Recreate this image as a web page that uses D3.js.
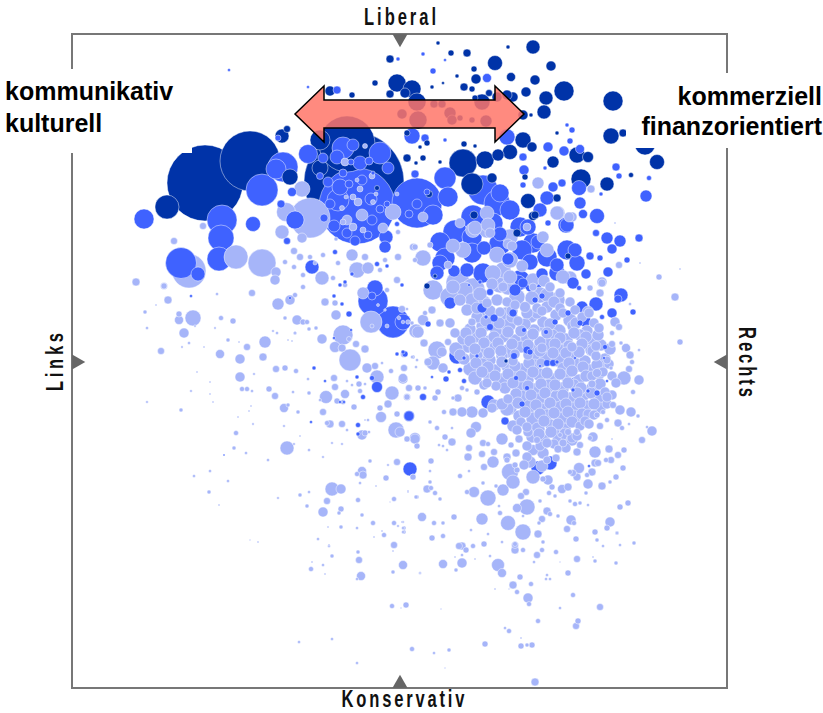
<!DOCTYPE html>
<html>
<head>
<meta charset="utf-8">
<script src="https://cdn.jsdelivr.net/npm/d3@7"></script>
<style>
  html, body { margin: 0; padding: 0; background: #fff; }
  svg { display: block; }
</style>
</head>
<body>
<script>
var w = 823;
var h = 713;

// map position (left-right, top-down) and radius
var darkBubbles = [
  [133,149,38],[178,127,30],[95,173,12],[282,148,50],[275,110,28],[248,106,10],[248,134,8],[218,143,8],[210,102,7],[215,95,3.5],
  [318,25,4],[325,49,9],[340,55,9],[318,60,4],[333,59,5],[303,49,3],[280,61,3],[258,57,5],[335,124,4],
  [461,13,7],[423,29,7.5],[479,32,5],[395,19,4],[379,19,3],[366,9,2],[436,13,2],[402,35,3],[404,45,5],[385,42,2],[371,49,1.5],
  [360,53,2],[392,53,4],[400,55,3],[439,43,4.5],[463,46,5],[492,57,10],[454,58,5],[474,64,7],[472,78,7],[541,67,10],
  [539,102,8],[551,99,4],[573,111,10],[585,128,7.5],[559,141,2.5],[535,150,7],[509,145,10],[451,81,5],[459,81,2],[485,99,2],
  [451,106,8],[460,113,5],[505,121,8],[516,123,5.5],[481,128,6],[453,143,3],[485,164,4],[456,167,7.5],[463,181,4],
  [391,129,14],[413,126,9],[426,121,6],[438,118,7.5],[400,150,11],[420,144,5],[344,129,2],[351,124,3],[355,109,3],[348,113,2],
  [392,110,3],[403,112,2],[368,128,2],[357,160,3.5],[345,68,9],[346,86,9],[378,79,6],[388,84,3],[380,86,5],[410,68,8],
  [414,87,6],[400,86,3],[425,63,5],[441,63,5],[435,61,5],[417,59,3.5],[403,64,3],[335,99,3],[305,154,2.5],[355,252,3],[434,327,2],[362,70,4],[330,80,5],[370,70,4],
  [445,199,4],[402,181,4],[496,222,3],[363,242,2],[461,182,4.5]
];

var midBubbles = [
  [190,156,16],[211,133,15],[204,135,10],[236,120,9.5],[150,186,15],[149,204,13],[147,225,12],[181,190,7.5],[72,185,10],[109,229,15.5],
  [126,240,7],[220,158,4.5],[209,170,4],[223,186,9],[215,207,3.5],[285,172,38],[308,119,11],[271,114,11],[288,129,7],[345,169,25],
  [314,203,7],[313,213,6],[343,140,4],[240,233,7],[303,254,8],[263,218,2.5],[268,251,2],[273,248,2],[330,251,2],[326,25,2],[265,56,4],[236,53,1.5],[157,36,1.5],[206,104,3],
  [351,20,2],[373,26,1.5],[361,37,3],[415,44,4.5],[544,133,4],[547,142,3],[577,144,2.5],[507,154,7.5],[574,162,6],[529,160,2],[508,169,6],
  [511,180,4.5],[525,182,7.5],[494,191,8],[476,189,3],[524,199,3.5],[535,204,6],[548,207,6],[540,215,5],[567,204,4],[555,226,3],
  [528,224,3],[536,238,5],[549,261,7],[500,96,3],[495,91,2],[498,107,3],[476,113,5],[492,117,5],[508,115,4.5],[451,123,4],
  [452,136,5],[451,151,3],[473,134,2],[475,164,7],[481,153,5],[490,149,4],[468,176,7],[435,103,8],[340,102,8],[353,104,4],[373,106,2],
  [373,144,11],[376,163,10],[411,156,15],[425,169,13],[428,159,9],[438,176,10],[361,181,10],[383,198,12],[401,183,12],[456,193,8],[448,193,10],
  [461,209,10],[495,216,10],[475,223,10],[505,229,8],[448,246,10],[461,250,9],[485,239,8],[501,249,6],[368,208,10],[373,224,10],[368,229,8],
  [400,203,10],[421,189,10],[428,210,11],[400,219,10],[450,216,10],[466,208,7],[458,228,8],[485,231,7],[503,216,7],[495,191,7],[411,239,10],[365,239,7],[446,249,8],
  [428,200,7],[436,225,6],[395,236,7],[382,237,6],[412,214,7],[470,240,6],[514,240,5],[518,222,4],
  [378,269,6],[356,290,3],[410,274,5],[422,284,4],[452,296,2.5],[483,288,3],[496,279,3],
  [474,298,2.5],[510,273,6],[524,270,7],[546,265,4],[540,279,5],[561,278,3],[530,283,2.5],[513,287,6],[508,289,3],[507,254,2.5],
  [470,262,3],[463,266,3],[443,256,6],[451,249,5],[418,258,3.5],[408,248,2],[397,251,1.5],[414,283,2],[418,293,3.5],[441,279,4],
  [405,322,2],[442,322,3.5],[455,316,4],[458,318,3],[468,332,1.5],[475,329,3.5],[481,329,3.5],[485,328,2],[444,344,2.5],[455,354,2.5],
  [505,349,7],[501,356,2],[516,357,2],[525,359,3],[535,347,1.5],[532,324,1.5],[533,313,2.5],[503,324,1.5],[392,324,2],[388,336,2.5],
  [392,347,2.5],[377,338,2],[374,345,3],[351,363,3.5],[360,343,1.5],[337,382,5.5],[433,387,4],[450,370,3],[416,368,7],[338,435,7],
  [466,434,7],[478,429,7],[517,432,1.5],[331,318,2],[331,288,8],[385,322,8],[300,262,4],[301,267,15],[321,288,16],[337,382,5],
  [119,262,1.5],[242,334,2],[253,347,1.5],[270,270,2],[277,280,3],[291,363,2.5],[305,353,5.5],[286,391,2.5],[286,400,2],[333,320,3],
  [262,304,1.5],[218,264,1.5],[223,299,1.5],[279,296,1.5],[300,344,2.5],[285,343,2],[268,368,1.5],[272,368,1.5],[239,388,1.5],[152,421,1],
  [305,230,2.5],[280,240,2],[315,232,2],[262,262,2],[325,320,2],[315,170,3],[325,190,2.5],
  // small circles lying on the two largest discs
  [265,123,7],[251,124,5],[281,111,6],[316,134,6],[268,153,8],[256,148,5],[248,142,3.5],[290,146,5],[301,139,2],[266,166,11],[299,165,6],[277,150,4],
  [258,170,5],[275,199,5],[262,192,6],[300,186,5],[308,175,4],[296,201,4],[283,207,5],[271,139,4],[297,127,4],[279,128,3],[252,184,4],[345,170,5],[337,180,4],[355,158,3]
];

var lightBubbles = [
  [117,237,17],[164,223,12],[190,229,14],[230,155,8],[238,184,20],[214,178,9.5],[210,198,7],[230,204,5],[321,178,8],[280,221,6],
  [285,236,8],[296,234,6],[250,244,7],[204,238,5],[203,246,5],[92,252,3.5],[64,248,4],[102,207,3.5],[131,192,3.5],[238,223,2.5],
  [228,223,3.5],[222,217,3.5],[213,228,2.5],[222,233,2.5],[231,241,2.5],[223,261,2.5],[231,253,2.5],[180,259,3.5],[261,244,2.5],[251,221,2.5],
  [243,229,2],[266,229,2.5],[293,223,3.5],[308,236,2.5],[325,246,3.5],[315,256,2.5],[326,223,3.5],[343,226,2.5],[342,213,3.5],[326,198,2.5],[313,226,2.5],
  [270,174,2.5],[275,186,5],[271,188,3],[281,193,4],[290,181,6],[286,168,4],[281,163,3],[291,196,3],[311,194,5],[301,168,2.5],[274,163,2],[288,155,3],[273,128,4],[293,112,2.5],[285,146,2],[300,142,3],[325,160,2],[264,205,2],[304,160,2],
  [415,179,7],[403,194,7],[418,199,5],[416,191,7],[388,189,5],[381,212,7],[436,210,5],[425,221,8],[431,236,8],[475,216,7],[486,179,7],[500,183,5],[351,224,8],[343,213,3],[358,211,3],[376,231,4],
  [401,196,7.5],[415,196,8],[391,216,8],[438,203,8],[455,193,4],[471,203,6],[498,244,7],[386,249,12],[401,256,12],
  [421,239,8],[438,226,8],[436,253,8],[351,183,5],[361,256,10],[341,213,3.5],[378,263,10],[411,269,8],[445,263,8],[468,261,8],[428,249,10],[461,246,7],[491,243,7],[485,266,8],[475,261,7],[460,264,7],
  [393,256,8],[381,253,7],[388,266,6],[400,266,7],[395,276,6],[405,283,6],[400,288,4],[415,269,5],[425,266,6],[435,268,5],[443,271,5],[428,278,5],
  [453,273,5.5],[465,274,5],[475,273,6],[488,274,5],[498,268,5],[488,259,5],[478,253,5],[461,253,4],[431,253,5],[528,259,4],[530,249,4],[518,254,3],
  [407,281,7],[420,286,6],[434,280,7],[446,287,5],[459,282,7],[471,288,6],[484,281,6],[498,286,7],[510,283,5],[522,289,5],
  [398,295,6],[411,292,7],[424,297,6],[437,291,7],[462,296,6],[474,293,7],[487,297,7],[501,292,6],[515,297,6],[527,294,5],
  [391,305,6],[404,302,7],[417,307,6],[430,301,8],[443,306,6],[455,304,7],[468,308,6],[480,302,7],[494,306,7],[508,301,6],[520,306,6],
  [384,315,7],[396,311,8],[410,316,7],[423,313,6],[436,317,7],[449,313,6],[463,316,7],[476,311,7],[489,317,7],[500,313,5],[519,316,6],[529,311,6],
  [392,325,6],[404,322,7],[417,326,7],[430,322,6],[441,327,5],[461,325,7],[473,321,8],[486,326,7],[499,322,6],[513,327,6],[524,322,5],[533,325,6],
  [398,335,7],[410,331,7],[423,336,6],[436,332,7],[450,336,7],[463,331,6],[492,335,7],[505,331,7],[518,336,6],[530,332,6],
  [403,344,7],[416,341,6],[429,346,7],[441,342,7],[455,346,7],[468,341,7],[481,346,7],[494,342,6],[507,346,6],[520,342,5],
  [433,354,6],[449,351,7],[462,356,7],[476,352,7],[490,355,7],[502,351,6],[521,354,7],[412,351,5],
  [436,365,5],[452,363,7],[466,366,7],[484,362,6],[498,365,7],[512,361,6],[526,364,7],[540,361,5],
  [422,371,6],[438,374,7],[458,372,7],[470,376,7],[487,372,7],[501,375,7],[515,372,6],[528,374,6],
  [447,382,6],[461,385,7],[475,381,6],[489,385,7],[503,383,7],[516,380,5],
  [441,392,6],[466,395,7],[479,391,6],[493,395,6],[508,392,5],
  [460,403,6],[472,406,6],[487,402,7],[500,404,5],
  // circles packed between the ones above in the dense part
  [414,287,6],[427,289,6],[440,283,6],[453,290,6],[465,279,6],[478,290,6],[491,279,5],[504,289,6],[516,278,6],
  [394,299,6],[409,299,6],[422,303,6],[436,298,6],[449,297,6],[461,300,6],[475,299,6],[488,304,6],[502,299,6],[514,303,6],[526,301,6],
  [398,307,6],[412,309,6],[426,309,6],[440,310,6],[456,311,6],[470,314,5],[483,310,6],[497,312,6],[510,310,6],[524,312,5],[538,315,6],
  [388,321,6],[403,315,6],[417,319,6],[429,317,6],[443,320,5],[456,321,5],[468,317,6],[481,319,6],[494,319,6],[507,318,6],[521,317,6],
  [404,329,6],[416,333,6],[430,328,6],[443,332,6],[457,329,6],[469,329,5],[497,329,6],[511,333,6],[525,331,6],[537,330,5],
  [410,338,6],[423,342,6],[436,340,6],[449,342,6],[461,338,6],[475,339,6],[488,340,6],[500,337,6],[514,342,6],[527,340,6],[540,342,5],
  [424,352,5],[441,349,6],[456,352,6],[469,350,6],[483,351,6],[496,349,6],[509,354,6],[528,350,6],
  [444,360,6],[459,361,6],[473,359,6],[491,361,6],[505,359,6],[519,359,6],[533,358,5],
  [430,370,6],[446,369,6],[464,371,6],[478,369,6],[494,370,6],[508,369,6],[522,370,6],[535,370,5],
  [453,378,6],[468,380,6],[482,379,6],[496,378,6],[510,380,6],[522,381,5],
  [449,388,5],[472,387,6],[486,390,6],[500,388,6],[513,387,5],
  [467,400,6],[479,398,6],[493,400,6],[505,402,5],[456,398,5],
  [468,412,5],[482,410,5],[494,414,5],[455,412,5],[447,405,4],
  [405,274,6],[418,277,6],[440,277,6],[455,279,6],[470,277,5],[482,268,6],[503,276,5],[517,279,5],[408,260,7],[420,250,6],[438,243,7],[472,247,6],[450,232,6],[440,212,5],
  [603,263,4],[608,308,3],[567,346,5],[552,344,7],[544,349,5],[559,378,5],[548,376,5],[580,397,5],[570,406,3.5],[575,393,1.5],[566,382,2],
  [561,358,2.5],[535,363,5],[541,371,3.5],[560,328,2.5],[557,335,3.5],[567,316,1.5],[558,321,4],[554,314,4.5],[549,309,2],[540,310,3.5],
  [535,326,4],[539,334,2],[531,338,5],[525,339,4.5],[520,350,4],[547,293,3.5],[543,288,5],[540,299,2.5],[558,270,1.5],[519,155,4],[466,149,6],[497,183,5],[485,179,7],
  [547,231,3.5],[530,248,5],[587,243,3],[608,235,1],[543,189,1],[568,229,1],
  [365,316,9],[370,318,5],[361,329,7],[346,298,6],[351,286,5.5],[360,276,4],[353,279,2.5],[368,289,4],[378,289,5],[383,299,5],[376,308,3.5],
  [352,309,4],[371,334,5],[356,328,4],[331,344,4.5],[332,334,3.5],[345,326,1.5],[341,323,2],[346,354,3],[335,363,3],[353,354,2],[363,364,3],[366,358,3],
  [381,364,2],[386,364,4],[390,354,2.5],[395,356,2],[405,358,3],[415,349,5],[381,378,4],[390,378,5],[400,378,6],[372,378,2.5],[411,379,5],[420,374,5],[435,375,7],[445,396,5],[455,393,5],
  [404,393,5.5],[399,399,5],[430,405,6],[380,408,4],[373,403,3],[343,404,5.5],[335,405,3],[328,398,5],[358,388,2],[365,394,2.5],[380,394,1.5],[367,411,1.5],[371,412,1.5],[375,416,1.5],
  [397,414,3.5],[396,423,4],[411,409,3.5],[416,410,2.5],[410,420,3.5],[422,418,3.5],[439,411,3],[435,423,4],[421,428,6],[412,433,3.5],[359,427,3],
  [455,423,5],[461,416,5.5],[471,419,6],[475,409,5],[465,406,3.5],[491,409,4],[500,406,6],[488,401,2.5],[505,398,3.5],[496,398,3.5],[508,411,3.5],[505,418,4],
  [523,418,6],[537,415,4],[552,416,3],[546,421,3.5],[539,426,3.5],[534,426,2.5],[523,429,4],[526,429,3.5],[507,434,5.5],[521,403,5],[518,404,2.5],[517,390,5],
  [528,392,3.5],[525,381,3],[531,378,2.5],[535,386,2.5],[546,389,4],[550,394,2.5],[557,390,1.5],[540,405,1],[551,434,3],[520,438,4],[515,441,2.5],[516,450,5],
  [501,439,3.5],[505,443,4],[498,438,2.5],[530,452,4],[538,448,2],[544,443,3],[476,446,5],[480,453,3],[477,459,2.5],[461,443,7],[471,445,3],[441,448,7],
  [438,438,8.5],[435,426,3],[445,436,3],[443,431,3],[431,456,6],[424,452,2],[416,464,8],[402,458,5.5],[395,458,2.5],[388,442,2.5],[411,449,2],[397,437,1.5],
  [458,428,6],[470,432,6],[452,431,5],[484,424,4],[475,426,4],[444,419,4],[486,415,4],
  [358,437,1.5],[358,448,2],[355,455,4],[359,454,2.5],[363,459,2.5],[368,465,2],[345,463,2],[336,458,1],[341,443,3],
  [455,473,8],[445,474,4.5],[454,458,3.5],[449,462,3.5],[468,467,2],[483,462,2],[490,455,4.5],[496,453,4],[514,459,2],[498,467,2],[503,470,2.5],[508,469,2],[556,469,3],[548,473,3],[516,471,1.5],
  [475,477,4],[467,489,2],[470,485,3.5],[478,480,2.5],[486,482,2],[499,486,5],[502,489,2.5],[495,495,3.5],[538,488,5],[535,494,3],[523,498,3],[545,499,2],
  [410,485,6],[428,479,2.5],[427,472,1.5],[436,489,7.5],[451,498,8],[466,500,4],[451,482,1.5],[350,483,4.5],[362,489,2.5],[382,483,3],[371,489,2],[399,496,1.5],
  [331,494,1.5],[331,498,1.5],[330,488,1],[360,504,3],[371,502,2.5],[390,512,4],[401,512,2.5],[412,510,3],[416,500,1.5],[430,508,1.5],[443,511,3.5],[471,508,2],[504,505,3],[525,506,2],[531,512,1.5],[562,509,2],[545,499,1.5],
  [331,531,4.5],[371,530,4.5],[390,529,5],[348,539,1],[384,536,2],[383,523,1],[390,521,1.5],[387,512,3.5],[394,516,3],[403,525,1],[418,522,1.5],[426,531,6.5],[430,539,4.5],
  [443,516,4],[443,510,2.5],[451,516,2.5],[470,516,2.5],[465,521,3.5],[462,528,1.5],[484,518,2.5],[505,525,3.5],[488,528,0.8],[523,527,2],[521,523,1],[544,529,2],[548,511,1.5],
  [496,539,3],[475,541,1.5],[474,545,1.5],[478,545,1.5],[448,543,3],[459,550,2.5],[441,551,4],[445,558,2.5],[423,555,1],[437,555,0.8],[456,564,5],[457,570,2.5],[501,561,2.5],[528,573,3.5],[488,574,1.5],
  [506,587,3],[504,592,3.5],[466,587,2.5],[433,594,1.5],[437,597,2.5],[449,604,1],[449,612,3],[455,611,2],[460,611,3],[413,610,3],[377,616,2],[362,619,1.5],[340,615,2.5],[373,634,0.8],[463,648,4],[334,571,3],[369,575,0.8],
  [322,511,3.5],[321,517,1],[321,538,2],[348,539,1.5],[286,518,2],[287,526,3.5],[260,522,2],[257,512,1.5],[240,528,1],[251,531,1.5],[239,535,2.5],[253,540,1],[289,542,4.5],[285,545,1.5],
  [320,572,2.5],[329,574,0.8],[260,605,1.5],[227,608,1.5],[285,629,1.5],[186,508,1],[178,506,0.8],
  [92,252,3],[96,266,4],[73,278,2],[145,260,1.5],[84,271,1],[107,286,4.5],[121,284,8],[107,280,3],[149,284,2.5],[161,287,3],[112,299,5],[75,294,1.5],[123,292,1.2],[143,294,1.2],
  [156,306,2],[117,309,1.5],[110,313,1.2],[132,313,1],[89,317,3.5],[148,320,4.5],[168,325,5],[175,313,3.5],[167,308,1],[193,308,6],[191,323,4],[125,338,1],[138,348,1],[119,357,1.3],[138,360,1],[75,368,1.3],[141,368,1],[109,376,2],
  [168,343,5],[182,340,1.3],[170,355,2.5],[175,355,2.5],[180,357,1.5],[197,355,3],[203,362,3.5],[204,335,3.5],[213,334,3],[224,337,2.5],[236,345,1.5],[221,358,1.5],[237,359,2],
  [212,374,4.5],[216,371,2],[226,378,2],[179,372,1],[177,377,1],[166,383,1],[181,390,1.2],[164,399,2.5],[212,392,1.3],[228,402,1],[215,414,7],[222,410,1.3],[162,414,2],[174,419,1.5],[196,426,1.5],[237,416,1.5],[251,423,1.3],[260,409,1.3],[270,410,1.3],
  [138,437,1.5],[122,442,1.5],[156,447,1.5],[137,458,2],[147,471,1],[206,464,1.3],[228,461,2],[237,458,1.5],[235,472,2],[246,505,1.5],[257,511,1],
  [206,270,6],[218,266,5],[225,286,5],[231,288,3],[235,288,2.5],[213,284,2],[205,299,1.5],[201,297,1.3],[223,299,1.5],[237,295,2],[244,294,2],[216,306,1],[220,307,1],
  [250,305,5],[264,281,5],[253,268,4],[263,269,3],[271,301,10],[263,313,5.5],[270,314,4],[284,310,3.5],[293,315,4],[278,326,11],[277,305,2.5],[295,334,5],[303,332,3.5],[305,343,7],
  [262,344,3.5],[263,353,3.5],[287,350,3],[280,351,1.5],[293,350,1.5],[275,347,1.5],[288,357,2.5],[320,359,7],[331,345,5],[335,363,3.5],[337,354,3.5],[273,360,4.5],[254,363,6.5],[248,366,1.5],[265,367,3],[271,368,2.5],[282,373,3],[251,378,3.5],
  [316,370,4],[308,374,3],[309,383,5.5],[325,380,3],[324,396,8],[343,405,5],[335,405,3],[345,412,3],[258,390,4],[270,390,3.5],[255,389,2.5],[275,396,1.5],[290,401,5],[293,399,3],[297,398,1.5],[296,386,1.5],[293,386,1],
  [325,428,3.5],[316,431,1.3],[290,437,4.5],[285,440,2.5],[291,441,4],[298,427,2],[341,443,3],[314,444,3],[288,449,1.5],[260,455,7],[269,455,5],[255,467,3.5],[269,475,3],[267,479,2],[251,478,5],[286,466,2.5],[322,465,2.5],[344,463,2],
  [290,481,2],[301,489,2.5],[322,489,2.5],[332,494,2],[332,498,2],[269,493,2],[285,494,1.5],[256,493,1],[312,501,2.5],[310,497,1],[302,503,1],[304,452,1],[318,468,0.7],[331,488,1.3],[326,492,1.3],[336,457,1],
  [299,288,11],[330,275,3.5],[291,259,6],[273,251,2.5],[344,297,7],[340,289,2],[332,320,3.5],[319,337,2.5],[310,329,1.5],[340,323,1.5],[344,333,1.5],[313,276,1.3],[335,275,1.5],
  [315,292,2],[327,284,1.8],[336,288,2.3],[331,288,1.8],[300,292,2],[306,271,1.5]
];

// tips of the double arrow on the map, half widths of shaft and head
var arrowTips = [223, 452];
var arrowLine = 80;
var arrowShaft = 14;
var arrowHead = 28;
var arrowHeadLength = 29;

var leftLabels = ["kommunikativ", "kulturell"];
var rightLabels = ["kommerziell", "finanzorientiert"];

var svg = d3.select("body").append("svg")
  .attr("width", w)
  .attr("height", h);

var x = d3.scaleLinear().domain([0, 655]).range([72, 727]);
var y = d3.scaleLinear().domain([0, 654]).range([34, 688]);
var r = d3.scaleLinear().domain([0, 50]).range([0, 50]);

// plot frame
svg.append("rect")
  .attr("x", x(0))
  .attr("y", y(0))
  .attr("width", x(655) - x(0))
  .attr("height", y(654) - y(0))
  .attr("fill", "none")
  .attr("stroke", "#777")
  .attr("stroke-width", 2);

var tag = function (rows, color) {
  return rows.map(function (d) {
    return { x: d[0], y: d[1], r: d[2], color: color };
  });
};

// biggest first, so the small ones stay visible
var bubbles = tag(darkBubbles, "#0033a8")
  .concat(tag(midBubbles, "#3f62ff"))
  .concat(tag(lightBubbles, "#a6b5f9"))
  .sort(function (a, b) { return b.r - a.r; });

svg.append("g").selectAll("circle")
  .data(bubbles).enter()
  .append("circle")
  .attr("cx", function (d) { return x(d.x); })
  .attr("cy", function (d) { return y(d.y); })
  .attr("r", function (d) { return r(d.r); })
  .attr("fill", function (d) { return d.color; })
  .attr("stroke", "#fff")
  .attr("stroke-opacity", 0.45)
  .attr("stroke-width", 1);

// the arrows on the frame
var triangle = d3.symbol().type(d3.symbolTriangle).size(100);
var marks = [
  { x: 328, y: 4.5, rot: 180 },
  { x: 328, y: 649.5, rot: 0 },
  { x: 4.5, y: 328, rot: 90 },
  { x: 650.5, y: 328, rot: -90 }
];
svg.append("g").selectAll("path")
  .data(marks).enter()
  .append("path")
  .attr("d", triangle)
  .attr("transform", function (d) {
    return "translate(" + x(d.x) + "," + y(d.y) + ") rotate(" + d.rot + ")";
  })
  .attr("fill", "#666");

// white boxes behind the two side labels
svg.append("rect").attr("x", 0).attr("y", 69).attr("width", 192).attr("height", 84).attr("fill", "#fff");
svg.append("rect").attr("x", 626).attr("y", 73).attr("width", 197).attr("height", 75).attr("fill", "#fff");

var boldFont = "'Liberation Sans', Arial, sans-serif";

svg.append("g").selectAll("text")
  .data(leftLabels).enter()
  .append("text")
  .attr("x", 5)
  .attr("y", function (d, i) { return 100 + i * 32; })
  .attr("font-family", boldFont)
  .attr("font-weight", "bold")
  .attr("font-size", 25)
  .text(function (d) { return d; });

svg.append("g").selectAll("text")
  .data(rightLabels).enter()
  .append("text")
  .attr("x", 822)
  .attr("y", function (d, i) { return 105 + i * 30; })
  .attr("text-anchor", "end")
  .attr("font-family", boldFont)
  .attr("font-weight", "bold")
  .attr("font-size", 25)
  .text(function (d) { return d; });

// double arrow
var ax0 = x(arrowTips[0]), ax1 = x(arrowTips[1]), ay = y(arrowLine);
var arrowPoints = [
  [ax0, ay],
  [ax0 + arrowHeadLength, ay - arrowHead],
  [ax0 + arrowHeadLength, ay - arrowShaft],
  [ax1 - arrowHeadLength, ay - arrowShaft],
  [ax1 - arrowHeadLength, ay - arrowHead],
  [ax1, ay],
  [ax1 - arrowHeadLength, ay + arrowHead],
  [ax1 - arrowHeadLength, ay + arrowShaft],
  [ax0 + arrowHeadLength, ay + arrowShaft],
  [ax0 + arrowHeadLength, ay + arrowHead]
];
svg.append("path")
  .attr("d", d3.line()(arrowPoints) + "Z")
  .attr("fill", "#ff7569")
  .attr("fill-opacity", 0.85)
  .attr("stroke", "#000")
  .attr("stroke-width", 1.5);

// axis captions, squeezed sideways like the condensed face of the original
var caption = function (text, cx, cy, rot, len) {
  var squeeze = 0.72;
  svg.append("text")
    .attr("transform", "translate(" + cx + "," + cy + ") rotate(" + rot + ") scale(" + squeeze + ",1)")
    .attr("text-anchor", "middle")
    .attr("font-family", "'Liberation Sans', sans-serif")
    .attr("font-weight", "bold")
    .attr("font-size", 23)
    .attr("fill", "#111")
    .attr("textLength", len / squeeze)
    .attr("lengthAdjust", "spacing")
    .text(text);
};
caption("Liberal", 400, 25, 0, 72);
caption("Konservativ", 403, 707, 0, 123);
caption("Links", 63, 362, -90, 58);
caption("Rechts", 739, 362, 90, 70);
</script>
</body>
</html>
